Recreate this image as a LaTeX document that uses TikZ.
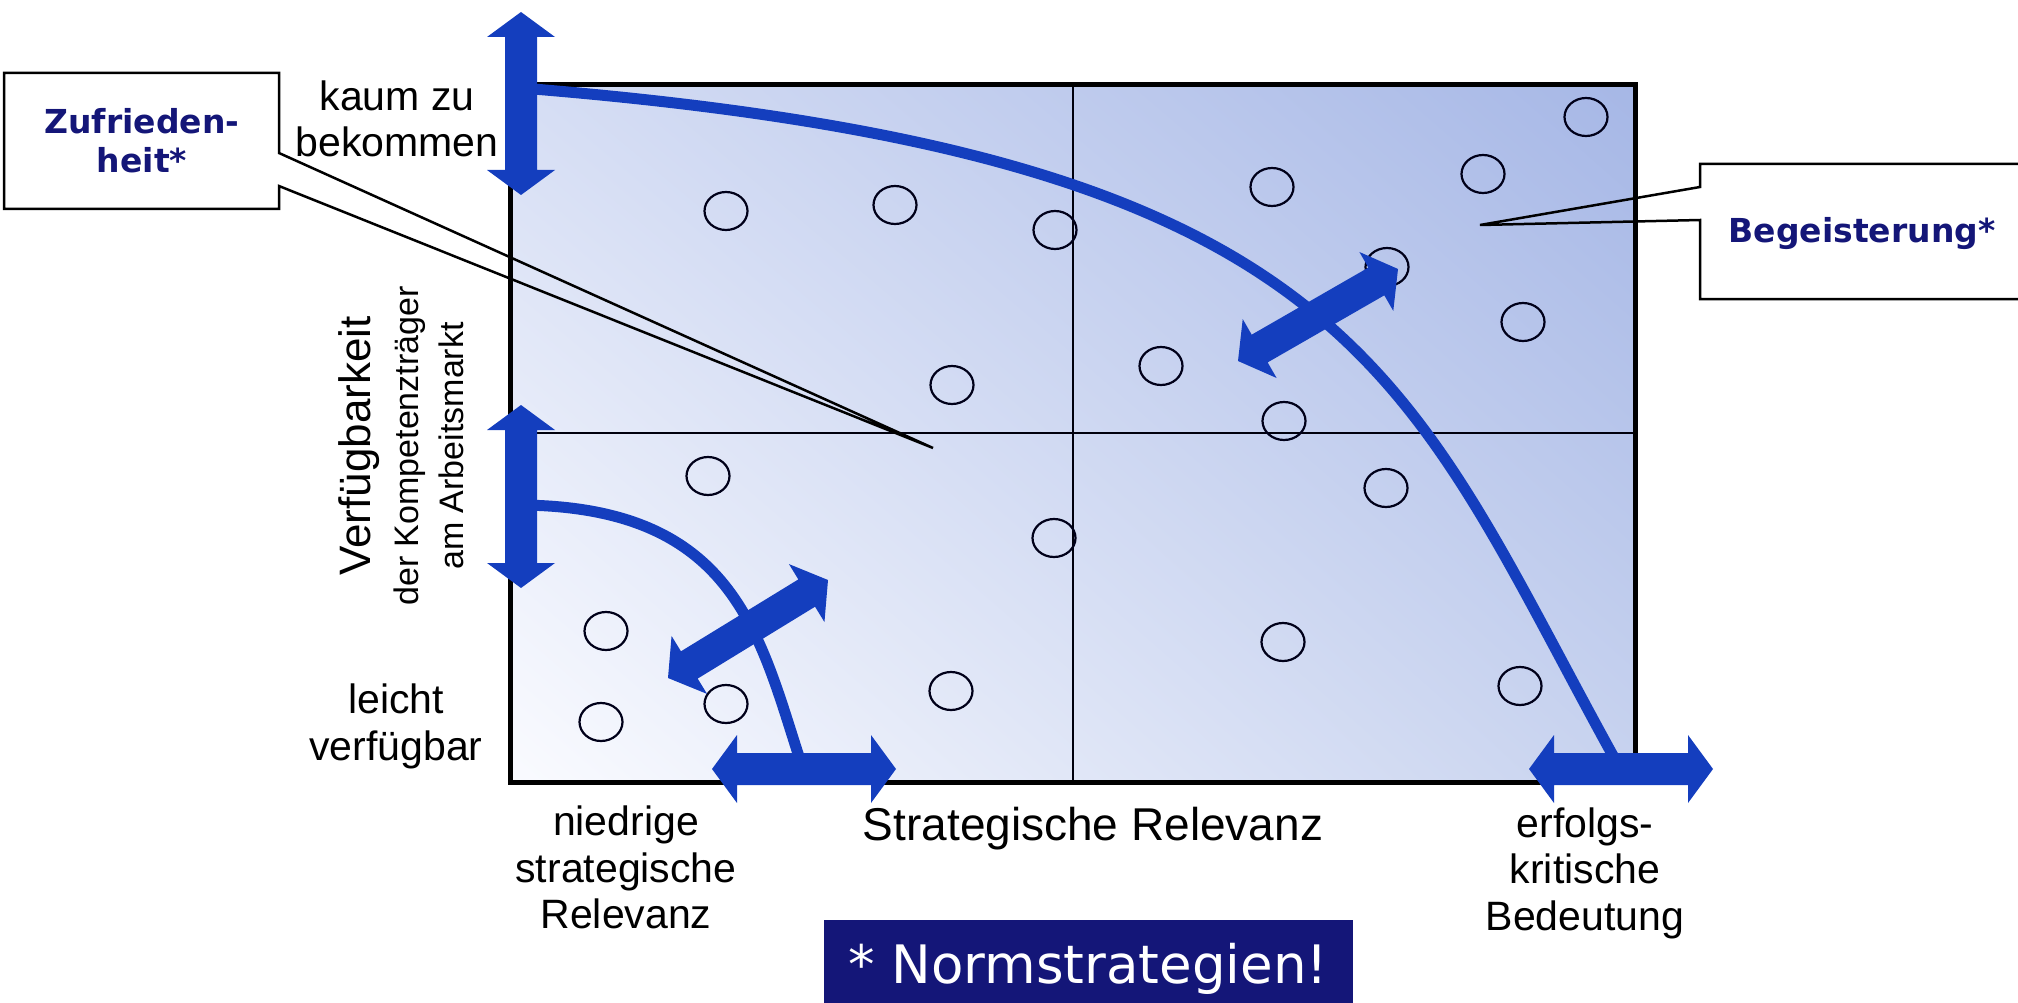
\documentclass[tikz,border=0pt]{standalone}
\usepackage{fontspec}
\setmainfont{Liberation Sans}
\newfontfamily\calfont{DejaVu Sans}
\usetikzlibrary{shapes.geometric,shadings}
\definecolor{arrowblue}{RGB}{20,62,190}
\definecolor{navy}{RGB}{20,22,120}
\definecolor{gUL}{RGB}{214,222,244}
\definecolor{gUR}{RGB}{166,183,230}
\definecolor{gLL}{RGB}{250,251,255}
\definecolor{gLR}{RGB}{200,211,239}
\newcommand\dblarr[4]{%
  \pgfmathsetmacro\arrang{atan2(#2-#4,#3-#1)}%
  \pgfmathsetmacro\arrlen{veclen(#3-#1,#4-#2)}%
  \pgfmathsetmacro\arrneck{\arrlen-25}%
  \fill[arrowblue,shift={(#1,#2)},rotate=\arrang]
    (0,0) -- (25,34) -- (25,16) -- (\arrneck,16) -- (\arrneck,34) -- (\arrlen,0)
    -- (\arrneck,-34) -- (\arrneck,-16) -- (25,-16) -- (25,-34) -- cycle;}
\tikzset{
  lbl/.style={font=\fontsize{41}{46}\selectfont, anchor=base, inner sep=0pt},
  vlbl/.style={anchor=base, inner sep=0pt, rotate=90},
  callout/.style={font=\calfont\bfseries\fontsize{33}{39}\selectfont, text=navy, anchor=base, inner sep=0pt},
  calline/.style={draw=black, line width=2.5pt, line join=miter},
  dot/.style={ellipse, draw=black!90!blue, line width=2.2pt, minimum width=43pt, minimum height=38pt, inner sep=0pt},
  curveline/.style={draw=arrowblue, line width=11pt, line cap=butt},
  gridline/.style={draw=black!95!blue, line width=2.6pt}
}
\begin{document}
\begin{tikzpicture}[x=1pt,y=-1pt]
\useasboundingbox (0,0) rectangle (2018,1003);
% matrix field
\coordinate (tl) at (510,85);
\coordinate (br) at (1635,782);
\shade[upper left=gUL, upper right=gUR, lower left=gLL, lower right=gLR] (tl) rectangle (br);
\draw[gridline] (1073,85) -- (1073,782);
\draw[gridline] (510,433) -- (1635,433);
\draw[line width=5pt] (tl) rectangle (br);
% circles
\foreach \n/\cx/\cy in {1/726/211, 2/895/205, 3/1055/230, 4/1272/187, 5/1483/174,
  6/1586/117, 7/1387/267, 8/1523/322, 9/1161/366, 10/952/385, 11/1284/421,
  12/708/476, 13/1386/488, 14/1054/538, 15/606/631, 16/1283/642, 17/951/691,
  18/1520/686, 19/601/722, 20/726/704}
  \node[dot] (c\n) at (\cx,\cy) {};
% curves
\coordinate (bigA) at (521,88);
\coordinate (bigB) at (1622,772);
\draw[curveline] (bigA) .. controls (1371,156) and (1403,379) .. (bigB);
\coordinate (smallA) at (521,505);
\coordinate (smallB) at (804,772);
\draw[curveline] (smallA) .. controls (740,507) and (760,640) .. (smallB);
% block arrows
\dblarr{521}{12}{521}{195}
\dblarr{521}{405}{521}{588}
\dblarr{712}{769}{896}{769}
\dblarr{1529}{769}{1713}{769}
\dblarr{668}{678}{828}{580}
\dblarr{1238}{361}{1398}{269}
% callouts
\coordinate (ztip) at (933,448);
\fill[white] (4,73) rectangle (279,209);
\draw[calline] (279,153) -- (279,73) -- (4,73) -- (4,209) -- (279,209) -- (279,186) -- (ztip) -- cycle;
\node[callout] (zuf1) at (142,134) {Zufrieden-};
\node[callout] (zuf2) at (142,173) {heit*};
\coordinate (btip) at (1480,225);
\fill[white] (1700,164) rectangle (2030,299);
\draw[calline] (2030,164) -- (1700,164) -- (1700,187) -- (btip) -- (1700,220) -- (1700,299) -- (2030,299);
\node[callout] (beg) at (1862,242) {Begeisterung*};
% axis labels
\node[lbl] (k1) at (397,111) {kaum zu};
\node[lbl] (k2) at (397,157) {bekommen};
\node[lbl] (l1) at (396,713) {leicht};
\node[lbl] (l2) at (396,760) {verfügbar};
\node[lbl] (n1) at (626,835) {niedrige};
\node[lbl] (n2) at (626,882) {strategische};
\node[lbl] (n3) at (626,928) {Relevanz};
\node[lbl] (e1) at (1585,837) {erfolgs-};
\node[lbl] (e2) at (1585,883) {kritische};
\node[lbl] (e3) at (1585,930) {Bedeutung};
\node[lbl, font=\fontsize{46}{52}\selectfont] (xax) at (1093,840) {Strategische Relevanz};
\node[vlbl, font=\fontsize{44}{50}\selectfont] (y1) at (370,446) {Verfügbarkeit};
\node[vlbl, font=\fontsize{34}{40}\selectfont] (y2) at (418,446) {der Kompetenzträger};
\node[vlbl, font=\fontsize{34}{40}\selectfont] (y3) at (463,446) {am Arbeitsmarkt};
% footnote box
\fill[navy] (824,920) rectangle (1353,1010);
\node[anchor=base, inner sep=0pt, text=white, font=\calfont\fontsize{53}{60}\selectfont] (norm) at (1088,983) {* Normstrategien!};
\end{tikzpicture}
\end{document}
